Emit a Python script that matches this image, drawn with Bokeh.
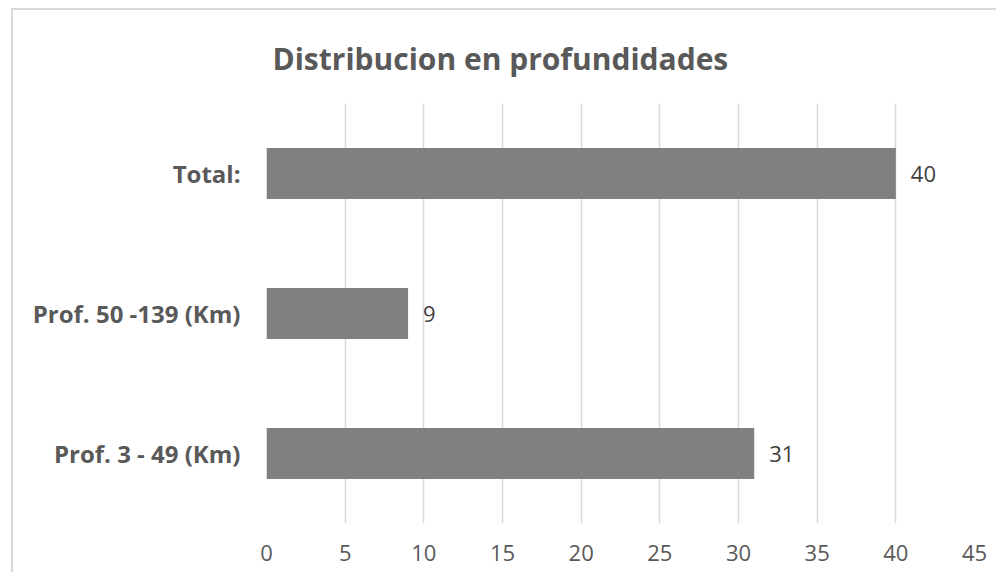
from bokeh.plotting import figure
from bokeh.models import FactorRange, Range1d, FixedTicker, ColumnDataSource
from bokeh.core.properties import value
from bokeh.embed import file_html
from bokeh.resources import INLINE

categories = ["Prof. 3 - 49 (Km)", "Prof. 50 -139 (Km)", "Total:"]
counts = [31, 9, 40]
x_ticks = [0, 5, 10, 15, 20, 25, 30, 35, 40, 45]
title_text = "Distribucion en profundidades"

FONT = "Open Sans"
src = ColumnDataSource(dict(cat=categories, val=counts, lab=[str(v) for v in counts]))

p = figure(width=985, height=564, output_backend="svg", toolbar_location=None,
           y_range=FactorRange(*categories, range_padding=0),
           x_range=Range1d(0, 45),
           min_border_left=253, min_border_right=24, min_border_top=93, min_border_bottom=51,
           title=title_text)
p.styles = {"border-left": "2px solid #d9d9d9", "border-top": "2px solid #d9d9d9"}
p.margin = (8, 0, 0, 11)

p.title.align = "left"
p.title.offset = 6
p.title.text_font = FONT
p.title.text_font_size = "30px"
p.title.text_font_style = "bold"
p.title.text_color = "#595959"
p.title.standoff = 49

p.outline_line_color = None
p.background_fill_color = "white"
p.border_fill_color = "white"

p.hbar(y="cat", right="val", left=0, height=0.365, source=src,
       fill_color="#808080", line_color=None)
p.text(x="val", y="cat", text="lab", source=src, x_offset=15,
       text_align="left", text_baseline="middle",
       text_font=value(FONT), text_font_size="22px", text_color="#404040")

p.xaxis.ticker = FixedTicker(ticks=x_ticks)
p.xaxis.axis_line_color = None
p.xaxis.major_tick_line_color = None
p.xaxis.minor_tick_line_color = None
p.xaxis.major_tick_out = 0
p.xaxis.major_tick_in = 0
p.xaxis.major_label_standoff = 21
p.xaxis.major_label_text_font = FONT
p.xaxis.major_label_text_font_size = "22px"
p.xaxis.major_label_text_color = "#595959"

p.yaxis.axis_line_color = None
p.yaxis.major_tick_line_color = None
p.yaxis.major_tick_out = 0
p.yaxis.major_tick_in = 0
p.yaxis.major_label_standoff = 26
p.yaxis.major_label_text_font = FONT
p.yaxis.major_label_text_font_size = "24px"
p.yaxis.major_label_text_font_style = "bold"
p.yaxis.major_label_text_color = "#595959"

p.xgrid.grid_line_color = "#d9d9d9"
p.xgrid.grid_line_width = 1.5
p.ygrid.grid_line_color = None

open("out.html", "w").write(file_html(p, INLINE))
